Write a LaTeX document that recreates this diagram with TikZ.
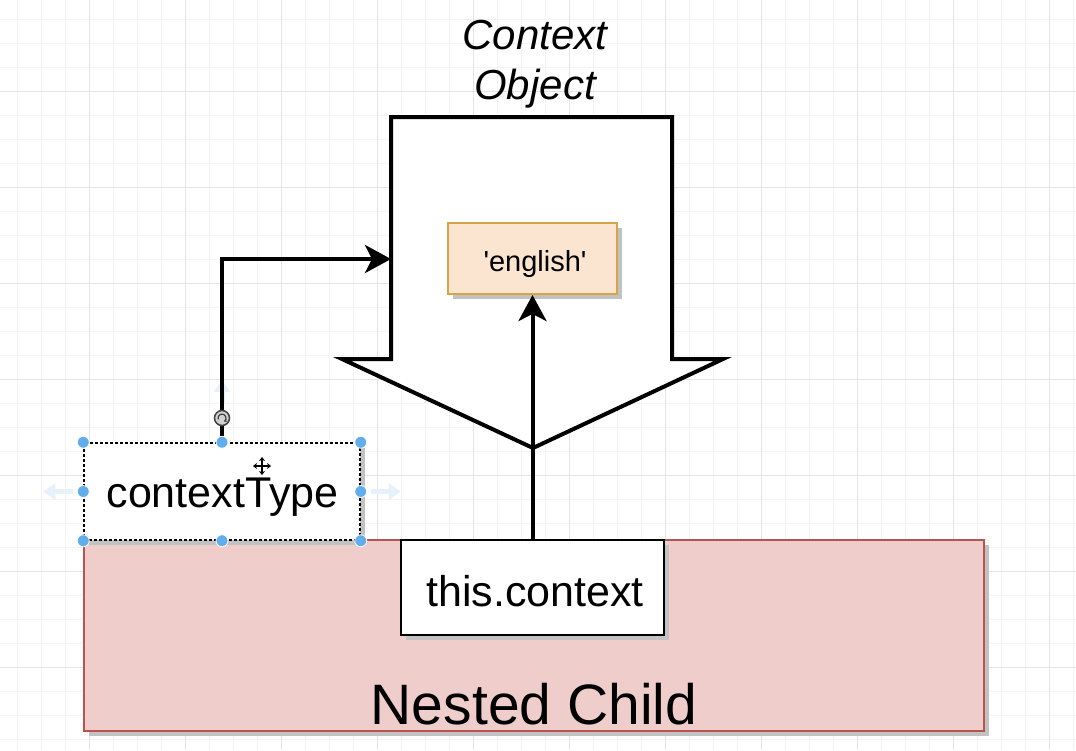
\documentclass[tikz,border=0pt]{standalone}
\usepackage{fontspec}
\setmainfont{Liberation Sans}[Ligatures=TeXOff]
\usetikzlibrary{arrows.meta,shadows,calc}

\definecolor{gridminor}{HTML}{F3F3F3}
\definecolor{gridmajor}{HTML}{E4E4E4}
\definecolor{childfill}{HTML}{EFCDCA}
\definecolor{childline}{HTML}{B85450}
\definecolor{valfill}{HTML}{FBE5D1}
\definecolor{valline}{HTML}{D4A547}
\definecolor{shadowgray}{HTML}{C2C2C2}
\definecolor{handleblue}{HTML}{62ADEB}
\definecolor{hintblue}{HTML}{E6F1FB}

\begin{document}
\begin{tikzpicture}[x=1pt,y=-1pt,
  box/.style={rectangle, inner sep=0pt, draw=black, line width=2pt, fill=white},
  shade5/.style={drop shadow={shadow xshift=5pt, shadow yshift=-5pt, fill=shadowgray, opacity=1}},
  bigtext/.style={font=\fontsize{43}{50}\selectfont, anchor=base, inner sep=0pt},
  link/.style={line width=4pt, draw=black, -{Stealth[length=26pt, width=28pt, inset=7pt]}},
  handle/.style={circle, fill=handleblue, draw=white, line width=0.8pt, inner sep=0pt, minimum size=12pt},
  hint/.style={draw=hintblue, line width=5pt, -{Triangle[length=12pt, width=16pt]}},
  cursorhalo/.style={white, line width=4pt, {Stealth[length=6pt,width=9pt]}-{Stealth[length=6pt,width=9pt]}},
  cursorline/.style={black, line width=1.6pt, {Stealth[length=4pt,width=6pt]}-{Stealth[length=4pt,width=6pt]}}
]
\useasboundingbox (0,0) rectangle (1076,750);
\fill[white] (0,0) rectangle (1076,750);

% background grid
\foreach \x in {17,41,...,1076} \draw[gridminor, line width=1pt] (\x,0) -- (\x,750);
\foreach \y in {19,43,...,750} \draw[gridminor, line width=1pt] (0,\y) -- (1076,\y);
\foreach \x in {89,185,...,1076} \draw[gridmajor, line width=1pt] (\x,0) -- (\x,750);
\foreach \y in {91,187,...,750} \draw[gridmajor, line width=1pt] (0,\y) -- (1076,\y);

% component container
\node[rectangle, inner sep=0pt, draw=childline, line width=1.5pt, fill=childfill, shade5,
      minimum width=900pt, minimum height=191pt] (child) at (534,635.5) {};
\node[anchor=base, font=\fontsize{57}{64}\selectfont] (childlabel) at (534,724) {Nested Child};

% selected contextType box
\node[box, shade5, line width=1.5pt, dash pattern=on 3pt off 2pt,
      minimum width=276pt, minimum height=97pt] (ct) at (222,491.5) {};
\node[bigtext] (ctlabel) at (222.5,507) {contextType};

% this.context box
\node[box, shade5, minimum width=263pt, minimum height=95pt] (tc) at (532.5,587.5) {};
\node[bigtext] (tclabel) at (535,606) {this.context};

% context object drawn as a wide down arrow
\draw[line width=4pt, fill=white, line join=miter]
  (391,117) -- (672,117) -- (672,359) -- (723,359) -- (533,448) -- (342,359) -- (391,359) -- cycle;
\coordinate (objin) at (391,259);
\node[font=\fontsize{42}{50}\selectfont\itshape, align=center] (objlabel) at (535,64) {Context\\Object};

% value held by the context
\node[box, draw=valline, fill=valfill, shade5, minimum width=169pt, minimum height=71pt] (val) at (532.5,258.5) {};
\node[font=\fontsize{29}{34}\selectfont, anchor=base] (valtext) at (535,271) {'english'};

% connectors
\draw[link] (tc.north) -- (val.south);
\draw[hint] (222,404) -- (222,380);
\draw[link] (ct.north) |- (objin);

% selection decorations
\draw[hint] ($(ct.west)+(-10,0)$) -- ++(-30,0);
\draw[hint] ($(ct.east)+(10,0)$) -- ++(30,0);
\node[circle, fill=black!18, draw=black!75, line width=1.5pt, minimum size=15pt, inner sep=0pt] (rot) at (222,418) {};
\draw[black!75, line width=1.2pt, -{Stealth[length=3pt,width=4pt]}] ([shift={(200:4pt)}]rot.center) arc[start angle=200, end angle=-60, radius=4pt];
\foreach \a in {north west, north, north east, west, east, south west, south, south east}
  \node[handle] at (ct.\a) {};

% move cursor
\coordinate (mv) at (262,466);
\draw[cursorhalo] ($(mv)+(-10,0)$) -- ($(mv)+(10,0)$);
\draw[cursorhalo] ($(mv)+(0,-10)$) -- ($(mv)+(0,10)$);
\draw[cursorline] ($(mv)+(-9,0)$) -- ($(mv)+(9,0)$);
\draw[cursorline] ($(mv)+(0,-9)$) -- ($(mv)+(0,9)$);
\end{tikzpicture}
\end{document}
